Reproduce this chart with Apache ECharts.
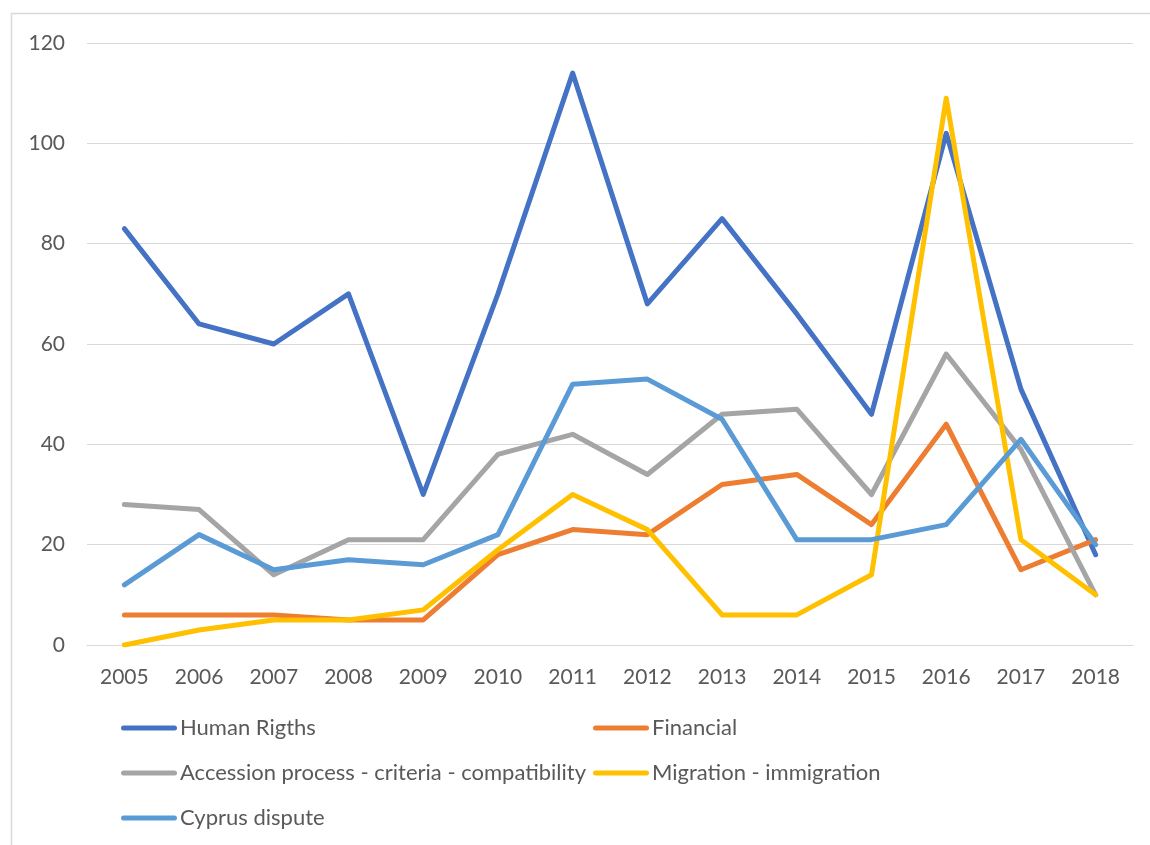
<!DOCTYPE html>
<html>
<head>
<meta charset="utf-8">
<title>Topics by year, 2005–2018</title>
<script src="https://cdn.jsdelivr.net/npm/echarts@6/dist/echarts.min.js"></script>
<style>
  html, body { margin: 0; padding: 0; background: #ffffff; }
  #chart { width: 1150px; height: 845px; }
</style>
</head>
<body>
<div id="chart"></div>
<script>
// Years on the category axis
const years = ['2005', '2006', '2007', '2008', '2009', '2010', '2011',
               '2012', '2013', '2014', '2015', '2016', '2017', '2018'];

// Yearly counts per topic
const humanRights = [83, 64, 60, 70, 30, 70, 114, 68, 85, 66, 46, 102, 51, 18];
const financial   = [6, 6, 6, 5, 5, 18, 23, 22, 32, 34, 24, 44, 15, 21];
const accession   = [28, 27, 14, 21, 21, 38, 42, 34, 46, 47, 30, 58, 39, 10];
const migration   = [0, 3, 5, 5, 7, 19, 30, 23, 6, 6, 14, 109, 21, 10];
const cyprus      = [12, 22, 15, 17, 16, 22, 52, 53, 45, 21, 21, 24, 41, 20];

// Series names as shown in the legend
const seriesNames = ['Human Rigths', 'Financial',
                     'Accession process - criteria - compatibility',
                     'Migration - immigration', 'Cyprus dispute'];

// Value axis ticks
const yTicks = { min: 0, max: 120, interval: 20 };

const colors = ['#4472C4', '#ED7D31', '#A5A5A5', '#FFC000', '#5B9BD5'];
const FONT = 'Lato';
const TEXT = '#595959';

const dataSets = [humanRights, financial, accession, migration, cyprus];

// Pill-shaped legend marker
const pill = 'path://M2.5,0 H53.5 A2.5,2.5 0 0 1 53.5,5 H2.5 A2.5,2.5 0 0 1 2.5,0 Z';

// Two-column legend below the plot
const legendSlots = [
  { left: 121, top: 717 },
  { left: 593, top: 717 },
  { left: 121, top: 762 },
  { left: 593, top: 762 },
  { left: 121, top: 807 }
];

const chart = echarts.init(document.getElementById('chart'), null, { renderer: 'canvas' });

chart.setOption({
  animation: false,
  backgroundColor: '#ffffff',
  color: colors,
  textStyle: { fontFamily: FONT },
  graphic: [{
    type: 'rect',
    shape: { x: 11.5, y: 13.5, width: 1200, height: 900 },
    style: { fill: 'none', stroke: '#d9d9d9', lineWidth: 1.5 },
    silent: true,
    z: -10
  }],
  grid: { left: 87, right: 17, top: 43, bottom: 200, containLabel: false },
  xAxis: {
    type: 'category',
    data: years,
    boundaryGap: true,
    axisLine: { show: true, lineStyle: { color: '#d9d9d9', width: 1 } },
    axisTick: { show: false },
    axisLabel: { color: TEXT, fontSize: 21, fontFamily: FONT, margin: 22 },
    splitLine: { show: false }
  },
  yAxis: {
    type: 'value',
    min: yTicks.min,
    max: yTicks.max,
    interval: yTicks.interval,
    axisLine: { show: false },
    axisTick: { show: false },
    axisLabel: { color: TEXT, fontSize: 21, fontFamily: FONT, margin: 22 },
    splitLine: { show: true, lineStyle: { color: '#d9d9d9', width: 1 } }
  },
  legend: seriesNames.map((name, i) => ({
    data: [name],
    left: legendSlots[i].left,
    top: legendSlots[i].top,
    icon: pill,
    itemWidth: 56,
    itemHeight: 5,
    itemGap: 0,
    padding: 0,
    selectedMode: false,
    textStyle: { color: TEXT, fontSize: 22, fontFamily: FONT, padding: [0, 0, 0, -2] }
  })),
  series: seriesNames.map((name, i) => ({
    name: name,
    type: 'line',
    data: dataSets[i],
    showSymbol: false,
    symbol: 'none',
    smooth: false,
    lineStyle: { width: 5, color: colors[i], cap: 'round', join: 'round' },
    itemStyle: { color: colors[i] },
    z: 2 + i
  }))
});
</script>
</body>
</html>
